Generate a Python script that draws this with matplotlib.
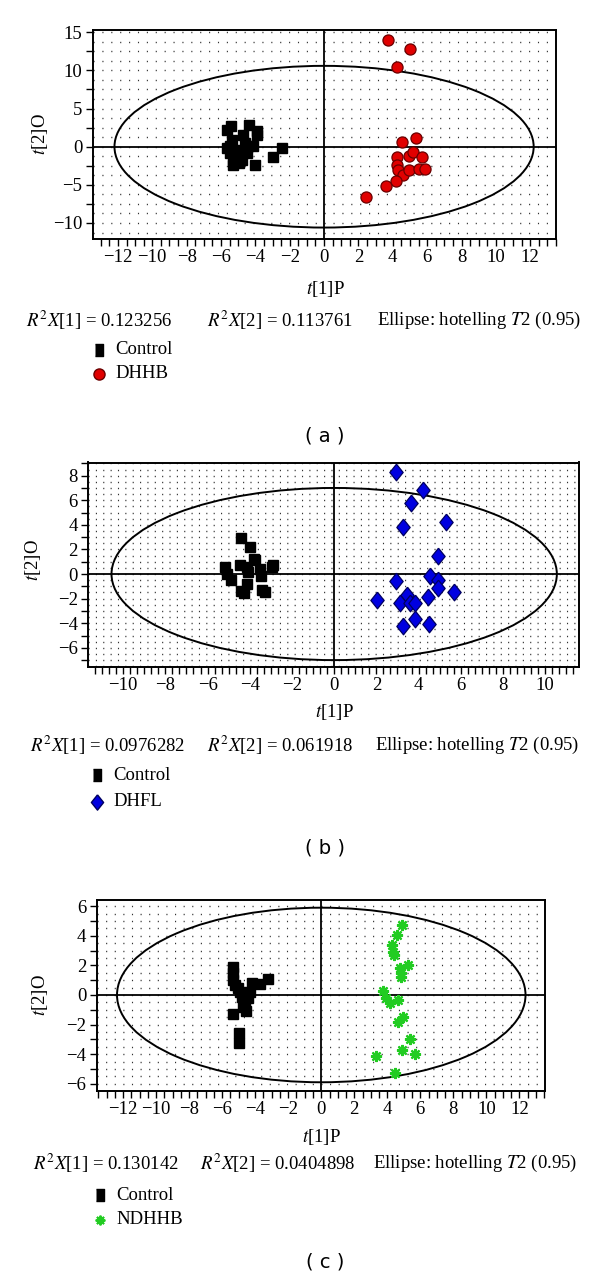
import numpy as np
import matplotlib
matplotlib.use('Agg')
import matplotlib.pyplot as plt
from matplotlib.patches import Ellipse
from matplotlib.ticker import MultipleLocator
from matplotlib.lines import Line2D

plt.rcParams['font.family'] = ['Liberation Serif', 'DejaVu Serif']
plt.rcParams['mathtext.fontset'] = 'stix'
plt.rcParams['axes.unicode_minus'] = True
plt.rcParams['lines.scale_dashes'] = False

# ---------------- data ----------------
a_ctrl_x = [-5.67, -5.42, -4.37, -3.92, -3.92, -4.70, -5.38, -4.15, -4.60, -5.50, -5.00, -5.48,
            -4.50, -5.28, -4.80, -5.32, -4.93, -4.02, -2.99, -2.43, -5.18, -5.67, -4.45]
a_ctrl_y = [2.24, 2.76, 2.90, 2.10, 1.60, 1.58, 0.92, 0.04, 0.48, 0.04, -0.40, -0.83,
            -0.83, -1.70, -1.70, -2.37, -2.14, -2.37, -1.40, -0.18, -1.05, -0.18, 0.04]
a_trt_x = [3.71, 5.00, 4.23, 4.56, 5.34, 4.23, 4.97, 5.20, 5.70, 4.27, 4.33, 4.62, 4.95, 5.51,
           5.90, 4.17, 3.59, 2.46]
a_trt_y = [14.0, 12.85, 10.4, 0.57, 1.14, -1.30, -1.18, -0.66, -1.30, -2.37, -3.10, -3.77, -3.03,
           -2.94, -2.94, -4.56, -5.20, -6.58]

b_ctrl_x = [-4.41, -4.01, -3.82, -4.45, -5.15, -4.14, -2.92, -3.51, -5.09, -4.06, -3.48, -4.90,
            -4.11, -4.42, -4.25, -3.43, -3.30, -3.74, -2.95]
b_ctrl_y = [2.90, 2.16, 1.26, 0.71, 0.57, 0.57, 0.71, 0.44, 0.03, 0.16, -0.19, -0.52,
            -0.85, -1.34, -1.56, -1.28, -1.48, 1.12, 0.57]
b_trt_x = [2.91, 4.19, 3.65, 5.28, 3.25, 4.91, 4.52, 2.92, 4.90, 4.94, 5.67, 2.05, 3.44, 3.13,
           3.60, 3.81, 4.44, 3.81, 3.24, 4.49]
b_trt_y = [8.28, 6.80, 5.77, 4.23, 3.83, 1.45, -0.16, -0.60, -0.52, -1.15, -1.48, -2.08, -1.67,
           -2.38, -2.38, -2.35, -1.89, -3.66, -4.26, -4.10]

c_ctrl_x = [-5.32, -5.32, -5.32, -5.22, -5.02, -4.92, -4.82, -4.62, -4.72, -4.56, -4.22, -4.32,
            -4.42, -3.71, -3.20, -5.32, -4.96, -4.96]
c_ctrl_y = [1.91, 1.46, 1.01, 0.68, 0.45, 0.22, -0.12, -0.45, -0.79, -1.06, 0.79, 0.22,
            -0.23, 0.74, 1.05, -1.31, -2.59, -3.22]
c_trt_x = [4.86, 4.60, 4.27, 4.35, 4.42, 5.26, 4.76, 4.80, 4.80, 3.75, 3.95, 4.19, 4.66, 4.96,
           4.66, 5.40, 4.86, 5.65, 3.31, 4.48]
c_trt_y = [4.73, 4.05, 3.38, 2.93, 2.70, 2.00, 1.80, 1.46, 1.24, 0.27, -0.23, -0.52, -0.34, -1.46,
           -1.85, -3.00, -3.72, -3.99, -4.10, -5.25]

ellipse_a = (12.2, 10.6)
ellipse_b = (10.55, 7.0)
ellipse_c = (12.37, 5.9)

r2_a = ("0.123256", "0.113761")
r2_b = ("0.0976282", "0.061918")
r2_c = ("0.130142", "0.0404898")
groups_a = ("Control", "DHHB")
groups_b = ("Control", "DHFL")
groups_c = ("Control", "NDHHB")
panel_tags = ("( a )", "( b )", "( c )")

# ---------------- layout ----------------
W, H = 600, 1279
FS = 13.5
fig = plt.figure(figsize=(6, 12.79), dpi=100)


def fx(px):
    return px / W


def fy(py):
    return 1 - py / H


def make_axes(l, t, r, b):
    return fig.add_axes([fx(l), fy(b), (r - l) / W, (b - t) / H])


def style_axes(ax, xlim, ylim, xmaj, xmin, ymaj, ymin, drow, dcol):
    ax.set_xlim(*xlim)
    ax.set_ylim(*ylim)
    ax.xaxis.set_major_locator(MultipleLocator(xmaj))
    ax.xaxis.set_minor_locator(MultipleLocator(xmin))
    ax.yaxis.set_major_locator(MultipleLocator(ymaj))
    ax.yaxis.set_minor_locator(MultipleLocator(ymin))
    ax.tick_params(which='both', direction='out', length=5, width=1.0, top=False, right=False,
                   labelsize=FS, pad=2.5)
    for s in ax.spines.values():
        s.set_linewidth(1.4)
    # dotted background pattern
    rows = np.arange(np.ceil(ylim[0] / drow) * drow, ylim[1], drow)
    ax.hlines(rows, xlim[0], xlim[1], colors='#333333', linewidth=1.0,
              linestyles=(0, (0.8, dcol)), zorder=0)
    ax.axhline(0, color='black', lw=1.3, zorder=1)
    ax.axvline(0, color='black', lw=1.3, zorder=1)


def ellipse(ax, ab):
    ax.add_patch(Ellipse((0, 0), 2 * ab[0], 2 * ab[1], fill=False, ec='black', lw=1.4, zorder=2))


def texts(xlab_y, r2_y, x1, x2, x3, r2, xl_x):
    fig.text(fx(xl_x), fy(xlab_y), r"$t$[1]P", ha='center', va='center', fontsize=FS)
    fig.text(fx(x1), fy(r2_y), r"$R^2X$[1] = " + r2[0], ha='left', va='center', fontsize=FS)
    fig.text(fx(x2), fy(r2_y), r"$R^2X$[2] = " + r2[1], ha='left', va='center', fontsize=FS)
    fig.text(fx(x3), fy(r2_y), r"Ellipse: hotelling $T$2 (0.95)", ha='left', va='center',
             fontsize=FS)


def ylabel(px, py):
    fig.text(fx(px), fy(py), r"$t$[2]O", ha='center', va='center', rotation=90, fontsize=FS)


def legend(handles, labels, mx, y1, y2):
    for h, lab, yy in zip(handles, labels, (y1, y2)):
        fig.text(fx(mx + 16), fy(yy), lab, ha='left', va='center', fontsize=FS)
        fig.add_artist(Line2D([fx(mx)], [fy(yy)], transform=fig.transFigure, **h))


def tag(t, py):
    fig.text(fx(325), fy(py), t, ha='center', va='center', fontsize=14, family='DejaVu Sans')


sq_style = dict(marker='s', color='black', markersize=6.5, linestyle='none')
sq_leg = dict(marker=[(-0.35, -0.5), (0.35, -0.5), (0.35, 0.5), (-0.35, 0.5)], color='black',
              markersize=8, linestyle='none')
diamond = [(0, 1), (0.8, 0), (0, -1), (-0.8, 0), (0, 1)]

# ---------------- panel a ----------------
ax = make_axes(93, 30, 556, 239)
style_axes(ax, (-13.45, 13.5), (-12.1, 15.3), 2, 0.5, 5, 2.5, 1.25, 5.6)
ellipse(ax, ellipse_a)
ax.plot(a_ctrl_x, a_ctrl_y, **sq_style, zorder=3)
ax.plot(a_trt_x, a_trt_y, 'o', color='#e00000', mec='#6a0000', mew=0.9, markersize=8, zorder=3)
ylabel(40, 134)
texts(289, 320, 26, 207, 377, r2_a, 325)
legend([sq_leg, dict(marker='o', color='#e00000', mec='#6a0000', markersize=8, linestyle='none')],
       groups_a, 99, 350, 374)
tag(panel_tags[0], 436)

# ---------------- panel b ----------------
ax = make_axes(88.3, 462.5, 579, 667)
style_axes(ax, (-11.65, 11.6), (-7.56, 9.07), 2, 1 / 3, 2, 1, 0.5, 4.5)
ellipse(ax, ellipse_b)
ax.plot(b_ctrl_x, b_ctrl_y, **sq_style, zorder=3)
ax.plot(b_trt_x, b_trt_y, linestyle='none', marker=diamond, color='#0000e0', mec='#000060',
        mew=0.9, markersize=12, zorder=3)
ylabel(33, 560)
texts(712, 745, 30, 207, 375, r2_b, 334)
legend([sq_leg, dict(marker=diamond, color='#0000e0', mec='#000060', markersize=11,
                     linestyle='none')], groups_b, 97, 775, 802)
tag(panel_tags[1], 848)

# ---------------- panel c ----------------
ax = make_axes(96.7, 900, 545, 1090.7)
style_axes(ax, (-13.6, 13.55), (-6.47, 6.42), 2, 0.5, 2, 1, 0.5, 5.4)
ellipse(ax, ellipse_c)
ax.plot(c_ctrl_x, c_ctrl_y, **sq_style, zorder=3)
ax.plot(c_trt_x, c_trt_y, linestyle='none', marker=(8, 2, 0), color='#22cc22', mew=1.6,
        markersize=8, zorder=3)
ylabel(40, 995)
texts(1137, 1163, 33, 200, 373, r2_c, 321)
legend([sq_leg, dict(marker=(8, 2, 0), color='#22cc22', mew=1.4, markersize=7,
                     linestyle='none')], groups_c, 100, 1195, 1220)
tag(panel_tags[2], 1262)

fig.savefig('out.png', dpi=100)
